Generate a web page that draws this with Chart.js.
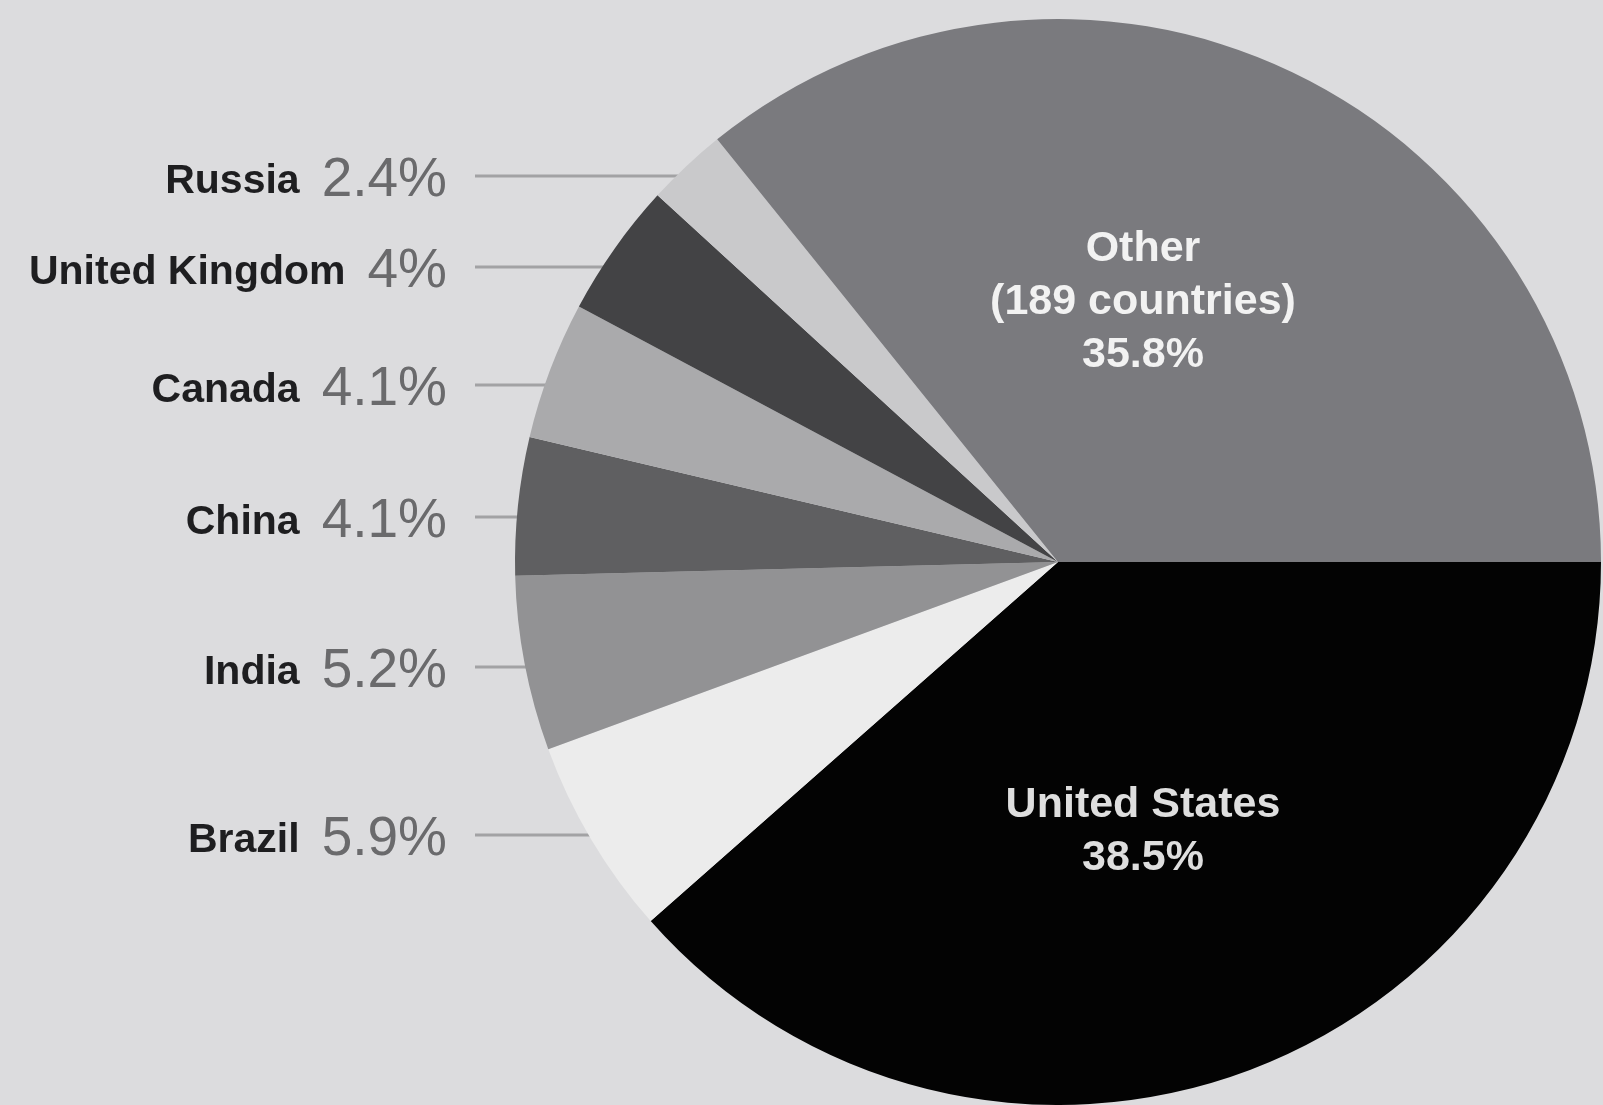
<!DOCTYPE html>
<html>
<head>
<meta charset="utf-8">
<title>Share by country</title>
<script src="https://cdn.jsdelivr.net/npm/chart.js@4/dist/chart.umd.min.js"></script>
<style>
    html, body { margin: 0; padding: 0; background: #dcdcde; overflow: hidden; }
    #wrap { width: 1603px; height: 1105px; position: relative; }
</style>
</head>
<body>
<div id="wrap"><canvas id="myPieChart"></canvas></div>
<script>
// slices, clockwise from 3 o'clock
var countries = ["United States", "Brazil", "India", "China", "Canada", "United Kingdom", "Russia", "Other"];
var shares = [38.5, 5.9, 5.2, 4.1, 4.1, 4, 2.4, 35.8];
var sliceColors = ["#030303", "#ececec", "#929294", "#5f5f61", "#aaaaac", "#434345", "#c9c9cb", "#7a7a7e"];

// which slices get a label outside with a leader line, and which inside
var sideLabels = ["Russia", "United Kingdom", "Canada", "China", "India", "Brazil"];
var insideLabels = {
    "Other": ["Other", "(189 countries)"],
    "United States": ["United States"]
};

// label rows, as offset from the pie centre in pixels
var sideRowOffset = {
    "Russia": -386,
    "United Kingdom": -295,
    "Canada": -177,
    "China": -45,
    "India": 105,
    "Brazil": 273
};
var insideCenter = {
    "Other": { dx: 85, dy: -260 },
    "United States": { dx: 85, dy: 270 }
};

/**
 * Format a share as a percent label
 */
function pct(v) {
    return String(v) + "%";
}

/**
 * Draw names, percents and leader lines left of the pie
 */
var sideLabelPlugin = {
    id: 'sideLabels',
    beforeDatasetsDraw: function (chart) {
        var ctx = chart.ctx;
        var arc = chart.getDatasetMeta(0).data[0];
        var cx = arc.x, cy = arc.y, r = arc.outerRadius;

        ctx.save();
        for (var i = 0; i < sideLabels.length; i++) {
            var name = sideLabels[i];
            var idx = countries.indexOf(name);
            var y = cy + sideRowOffset[name];

            // leader line up to the pie edge
            var edgeX = cx - Math.sqrt(r * r - (y - cy) * (y - cy));
            ctx.strokeStyle = "#a2a2a4";
            ctx.lineWidth = 3;
            ctx.beginPath();
            ctx.moveTo(475, y);
            ctx.lineTo(edgeX + 2, y);
            ctx.stroke();

            // percent, right aligned
            ctx.textAlign = "right";
            ctx.textBaseline = "alphabetic";
            ctx.fillStyle = "#6a6a6c";
            ctx.font = "55px 'Liberation Sans', Arial, sans-serif";
            var p = pct(shares[idx]);
            ctx.fillText(p, 447, y + 20);
            var pw = ctx.measureText(p).width;

            // country name
            ctx.fillStyle = "#1e1e20";
            ctx.font = "bold 41px 'Liberation Sans', Arial, sans-serif";
            ctx.fillText(name, 447 - pw - 22, y + 17);
        }
        ctx.restore();
    },
    afterDatasetsDraw: function (chart) {
        var ctx = chart.ctx;
        var arc = chart.getDatasetMeta(0).data[0];
        var cx = arc.x, cy = arc.y;

        ctx.save();
        ctx.textAlign = "center";
        ctx.textBaseline = "middle";
        ctx.font = "bold 43px 'Liberation Sans', Arial, sans-serif";
        for (var key in insideLabels) {
            var idx = countries.indexOf(key);
            var lines = insideLabels[key].concat([pct(shares[idx])]);
            var pos = insideCenter[key];
            var top = cy + pos.dy - (lines.length - 1) * 53 / 2;
            ctx.fillStyle = key == "Other" ? "#f2f2f2" : "#dedede";
            for (var j = 0; j < lines.length; j++) {
                ctx.fillText(lines[j], cx + pos.dx, top + j * 53);
            }
        }
        ctx.restore();
    }
};

/**
 * Create the pie chart in the canvas
 */
function makeChart() {
    var graphData = {
        labels: countries,
        datasets: [{
            data: shares,
            backgroundColor: sliceColors,
            borderWidth: 0,
            hoverOffset: 0
        }]
    };

    var ctx = document.getElementById("myPieChart").getContext("2d");

    var myPieChart = new Chart(ctx, {
        type: 'pie',
        data: graphData,
        options: {
            responsive: true,
            maintainAspectRatio: false,
            animation: false,
            rotation: 90,
            layout: { padding: { left: 514, right: 1, top: 19, bottom: 0 } },
            plugins: {
                legend: { display: false },
                tooltip: { enabled: false }
            }
        },
        plugins: [sideLabelPlugin]
    });
}

makeChart();
</script>
</body>
</html>
